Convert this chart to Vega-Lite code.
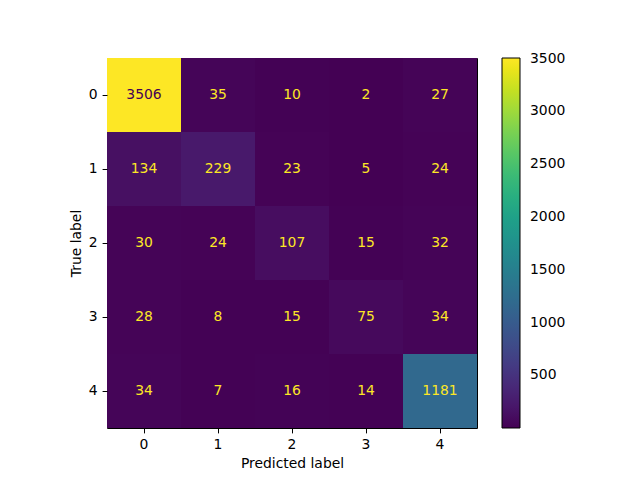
{
  "$schema": "https://vega.github.io/schema/vega-lite/v6.json",
  "width": 370,
  "height": 370,
  "autosize": {"type": "none"},
  "padding": {"left": 107, "top": 58, "right": 163, "bottom": 52},
  "background": "white",
  "config": {
    "font": "DejaVu Sans",
    "view": {"stroke": "black", "strokeWidth": 1},
    "axis": {
      "labelFont": "DejaVu Sans", "titleFont": "DejaVu Sans",
      "labelFontSize": 13.9, "titleFontSize": 13.9, "titleFontWeight": "normal",
      "labelColor": "black", "titleColor": "black",
      "tickColor": "black", "tickSize": 4.9, "tickWidth": 1,
      "domain": false, "grid": false, "labelPadding": 4.9, "titlePadding": 5
    },
    "legend": {
      "labelFont": "DejaVu Sans", "labelFontSize": 13.9, "labelColor": "black"
    }
  },
  "data": {
    "values": [
      {"t": "0", "p": "0", "n": 3506}, {"t": "0", "p": "1", "n": 35}, {"t": "0", "p": "2", "n": 10}, {"t": "0", "p": "3", "n": 2}, {"t": "0", "p": "4", "n": 27},
      {"t": "1", "p": "0", "n": 134}, {"t": "1", "p": "1", "n": 229}, {"t": "1", "p": "2", "n": 23}, {"t": "1", "p": "3", "n": 5}, {"t": "1", "p": "4", "n": 24},
      {"t": "2", "p": "0", "n": 30}, {"t": "2", "p": "1", "n": 24}, {"t": "2", "p": "2", "n": 107}, {"t": "2", "p": "3", "n": 15}, {"t": "2", "p": "4", "n": 32},
      {"t": "3", "p": "0", "n": 28}, {"t": "3", "p": "1", "n": 8}, {"t": "3", "p": "2", "n": 15}, {"t": "3", "p": "3", "n": 75}, {"t": "3", "p": "4", "n": 34},
      {"t": "4", "p": "0", "n": 34}, {"t": "4", "p": "1", "n": 7}, {"t": "4", "p": "2", "n": 16}, {"t": "4", "p": "3", "n": 14}, {"t": "4", "p": "4", "n": 1181}
    ]
  },
  "encoding": {
    "x": {"field": "p", "type": "ordinal", "title": "Predicted label",
          "scale": {"paddingInner": 0, "paddingOuter": 0},
          "axis": {"labelAngle": 0}},
    "y": {"field": "t", "type": "ordinal", "title": "True label",
          "scale": {"paddingInner": 0, "paddingOuter": 0}}
  },
  "layer": [
    {
      "mark": {"type": "rect"},
      "encoding": {
        "color": {"field": "n", "type": "quantitative",
                  "scale": {"scheme": "viridis", "domain": [2, 3506], "nice": false, "zero": false},
                  "legend": {"title": null, "orient": "right", "offset": 24.5, "padding": 0,
                             "direction": "vertical", "gradientLength": 370, "gradientThickness": 18,
                             "gradientStrokeColor": "black", "gradientStrokeWidth": 1,
                             "values": [500, 1000, 1500, 2000, 2500, 3000, 3500], "format": "d",
                             "labelOffset": 10, "labelOverlap": false}}
      }
    },
    {
      "mark": {"type": "text", "fontSize": 13.9, "font": "DejaVu Sans"},
      "encoding": {
        "text": {"field": "n", "type": "quantitative", "format": "d"},
        "color": {"condition": {"test": "datum.n > 1754", "value": "#440154"}, "value": "#fde725"}
      }
    }
  ]
}
